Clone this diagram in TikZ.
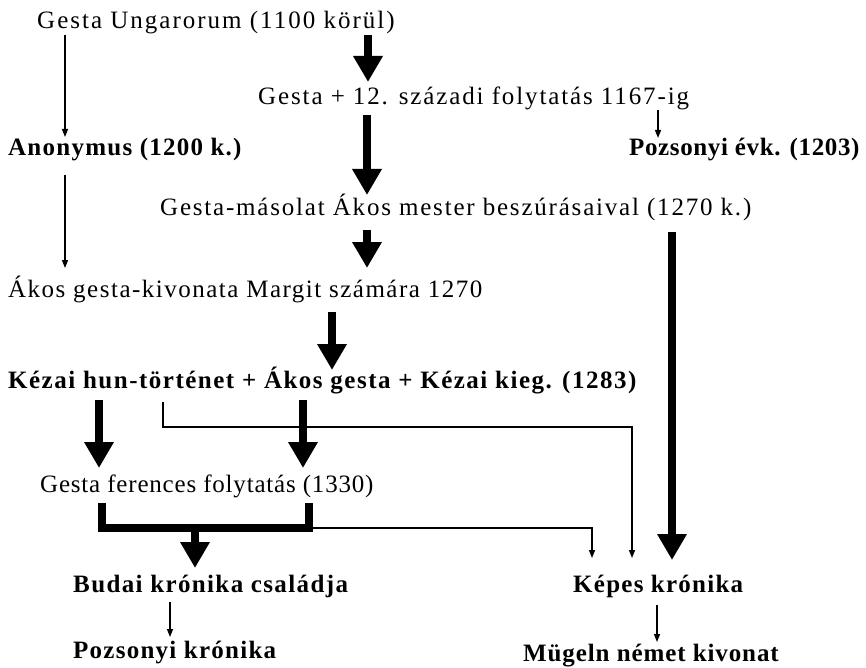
\documentclass[tikz,border=0pt]{standalone}
\usepackage{fontspec}
\setmainfont{Liberation Serif}[LetterSpace=6]
\usetikzlibrary{arrows.meta}
\tikzset{
  txt/.style={anchor=base west, inner sep=0pt, font=\fontsize{25}{30}\selectfont\addfontfeature{LetterSpace=#1}},
  txt/.default=6,
  btxt/.style={txt=#1, font=\fontsize{25}{30}\selectfont\addfontfeature{LetterSpace=#1}\bfseries},
  btxt/.default=6,
  thinarr/.style={line width=1.4pt, -{Triangle[width=6pt,length=8pt]}},
  thickarr/.style={line width=8pt, -{Triangle[width=28pt,length=26pt]}},
  bracket/.style={line width=8pt, line join=miter},
}
\begin{document}
\begin{tikzpicture}[x=1pt, y=-1pt]
\useasboundingbox (0,0) rectangle (866,668);

\node[txt=8] (gesta) at (37,29) {Gesta Ungarorum (1100 körül)};
\node[txt=7.5] (folyt) at (258,105) {Gesta + 12. századi folytatás 1167-ig};
\node[btxt=5] (anon) at (8,156) {Anonymus (1200 k.)};
\node[btxt=2.5] (evk) at (629,156) {Pozsonyi évk. (1203)};
\node[txt=7.2] (masolat) at (160,215) {Gesta-másolat Ákos mester beszúrásaival (1270 k.)};
\node[txt] (kivonat) at (8,297) {Ákos gesta-kivonata Margit számára 1270};
\node[btxt] (kezai) at (8,388) {Kézai hun-történet + Ákos gesta + Kézai kieg. (1283)};
\node[txt=3.2] (ferences) at (40,492) {Gesta ferences folytatás (1330)};
\node[btxt=5.5] (budai) at (73,592) {Budai krónika családja};
\node[btxt=5] (kepes) at (573,592) {Képes krónika};
\node[btxt=5] (pozskron) at (73,658) {Pozsonyi krónika};
\node[btxt=3.6] (mugeln) at (523,661) {Mügeln német kivonat};

\draw[thinarr] ([shift={(28,6)}]gesta.base west) -- ([shift={(57,-19)}]anon.base west);
\draw[thickarr] ([shift={(331,6)}]gesta.base west) -- ([shift={(110,-23)}]folyt.base west);
\draw[thinarr] ([shift={(400,5)}]folyt.base west) -- ([shift={(29,-18)}]evk.base west);
\draw[thickarr] ([shift={(109,10)}]folyt.base west) -- ([shift={(207,-20)}]masolat.base west);
\draw[thinarr] ([shift={(57,19)}]anon.base west) -- ([shift={(57,-29)}]kivonat.base west);
\draw[thickarr] ([shift={(207,15)}]masolat.base west) -- ([shift={(359,-29)}]kivonat.base west);
\draw[thickarr] ([shift={(324,15)}]kivonat.base west) -- ([shift={(324,-18)}]kezai.base west);
\draw[thickarr] ([shift={(512,17)}]masolat.base west) -- ([shift={(99,-32)}]kepes.base west);
\draw[thickarr] ([shift={(91,12)}]kezai.base west) -- ([shift={(59,-24)}]ferences.base west);
\draw[thickarr] ([shift={(295,12)}]kezai.base west) -- ([shift={(263,-24)}]ferences.base west);
\draw[thinarr, line join=miter] ([shift={(155,14)}]kezai.base west) -- ++(0,25) -| ([shift={(59,-34)}]kepes.base west);

\draw[bracket] ([shift={(62,11)}]ferences.base west) -- ++(0,25) -- ++(207,0) -- ++(0,-25);
\draw[thickarr] ([shift={(155,36)}]ferences.base west) -- ([shift={(122,-24)}]budai.base west);
\draw[thinarr, line join=miter] ([shift={(269,36)}]ferences.base west) -| ([shift={(19,-34)}]kepes.base west);

\draw[thinarr] ([shift={(97,10)}]budai.base west) -- ([shift={(97,-21)}]pozskron.base west);
\draw[thinarr] ([shift={(84,13)}]kepes.base west) -- ([shift={(134,-19)}]mugeln.base west);
\end{tikzpicture}
\end{document}
